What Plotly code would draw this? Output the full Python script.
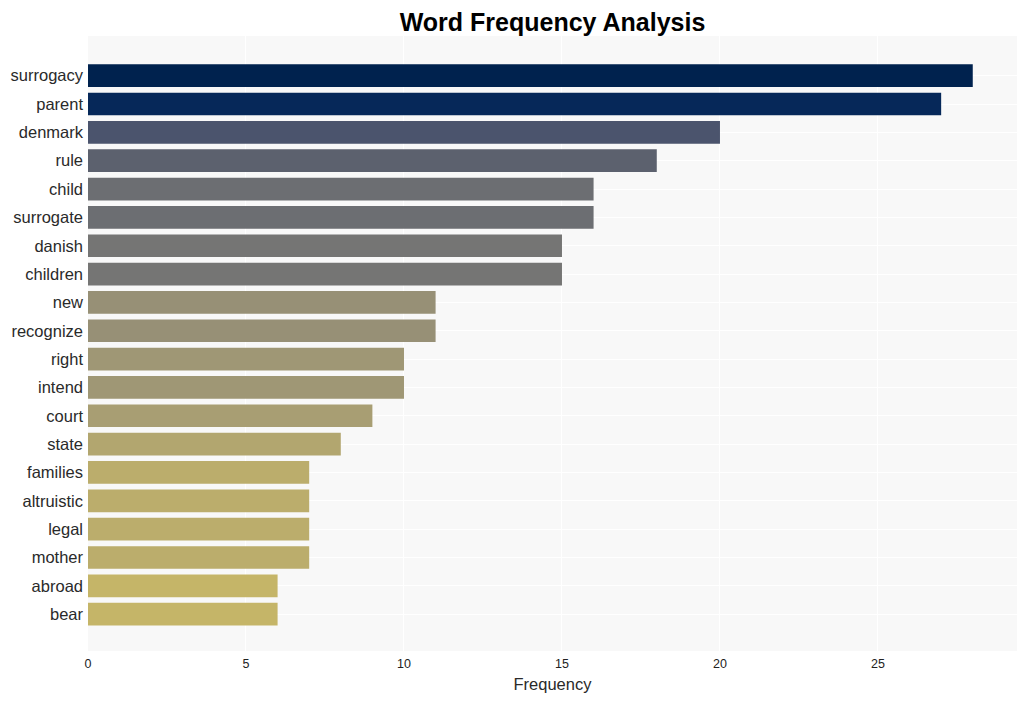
import plotly.graph_objects as go

words = ["surrogacy", "parent", "denmark", "rule", "child", "surrogate", "danish",
         "children", "new", "recognize", "right", "intend", "court", "state",
         "families", "altruistic", "legal", "mother", "abroad", "bear"]
counts = [28, 27, 20, 18, 16, 16, 15, 15, 11, 11, 10, 10, 9, 8, 7, 7, 7, 7, 6, 6]

x_ticks = [0, 5, 10, 15, 20, 25]

fig = go.Figure(
    go.Bar(
        x=counts,
        y=words,
        orientation="h",
        marker=dict(color=counts, colorscale="Cividis", reversescale=True,
                    cmin=0, cmax=max(counts), line=dict(width=0)),
        width=0.8,
    )
)

fig.update_layout(
    width=1011,
    height=685,
    margin=dict(l=80, r=2, t=28, b=42),
    paper_bgcolor="white",
    plot_bgcolor="rgb(248,248,248)",
    font=dict(family="Liberation Sans, Arial, sans-serif", color="#2a2a2a"),
    title=dict(text="<b>Word Frequency Analysis</b>", x=0.5, xref="paper",
               y=0.979, yref="container", xanchor="center", yanchor="middle",
               font=dict(size=25, color="black")),
    showlegend=False,
    bargap=0.2,
)
fig.update_xaxes(
    range=[0, 29.4],
    tickvals=x_ticks,
    tickfont=dict(size=12.5, color="#222222"),
    title=dict(text="Frequency", font=dict(size=16.5, color="#2a2a2a"), standoff=8),
    showgrid=True, gridcolor="white", gridwidth=1,
    zeroline=False, showline=False, ticks="", ticklabelstandoff=3,
)
fig.update_yaxes(
    range=[20.3, -1.4],
    categoryorder="array", categoryarray=words,
    tickfont=dict(size=16.5, color="#2a2a2a"),
    showgrid=True, gridcolor="white", gridwidth=1,
    ticks="", ticklabelstandoff=4,
)

fig.write_html("out.html")
